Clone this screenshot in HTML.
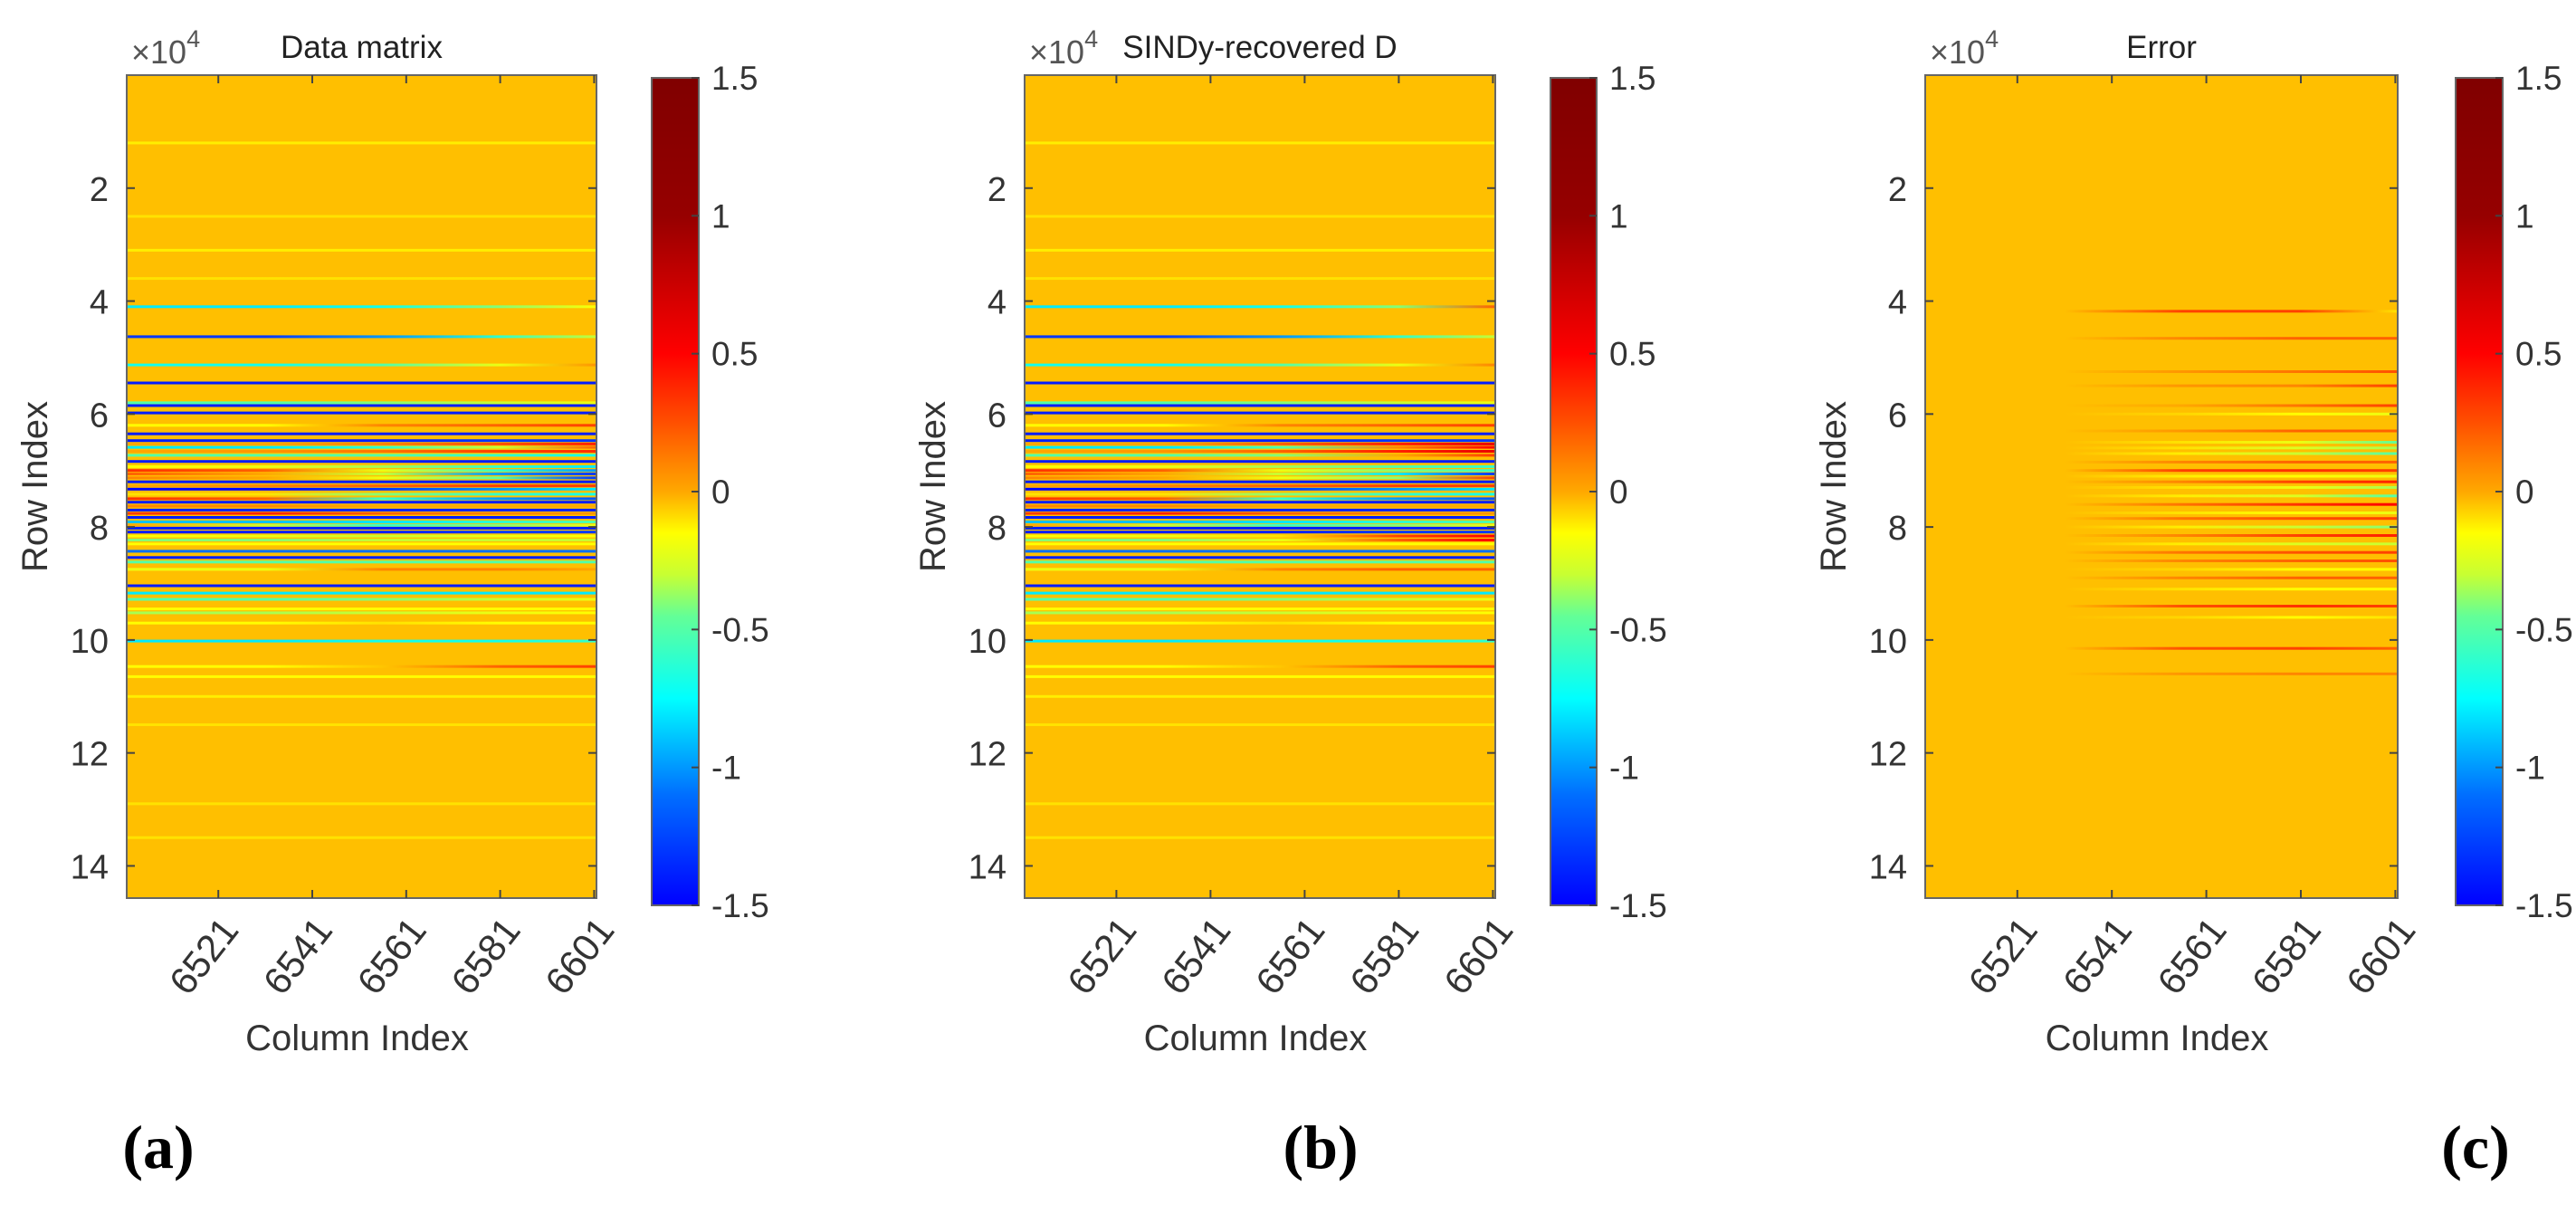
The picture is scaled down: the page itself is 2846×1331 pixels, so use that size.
<!DOCTYPE html>
<html><head><meta charset="utf-8">
<style>
html,body{margin:0;padding:0;background:#fff;}
svg{display:block;}
text{font-family:"Liberation Sans",sans-serif;}
</style></head>
<body>
<svg id="fig" width="2846" height="1331" viewBox="0 0 2846 1331" xmlns="http://www.w3.org/2000/svg">
<defs id="defs"></defs>
</svg>
<script>
// ---- data ----
const yTicks = [2,4,6,8,10,12,14];            // x10^4 rows
const xTicks = [6521,6541,6561,6581,6601];
const cbTicks = [1.5,1,0.5,0,-0.5,-1,-1.5];
const cbTickLabels = ["1.5","1","0.5","0","-0.5","-1","-1.5"];
const stripeCols = [6501.5,6531,6556,6581,6601.5];
const titles = ["Data matrix","SINDy-recovered D","Error"];
const panelLetters = ["(a)","(b)","(c)"];
const bgValues = [-0.04,-0.04,-0.04];
// [row (x1e4), value at each stripeCol]
const stripesA = [
[1.2,-0.12,-0.12,-0.12,-0.12,-0.12],[2.5,-0.1,-0.1,-0.1,-0.1,-0.1],[3.1,-0.12,-0.12,-0.12,-0.12,-0.12],[3.6,-0.1,-0.1,-0.1,-0.1,-0.1],
[4.10,-0.8,-0.8,-0.7,-0.4,-0.15],[4.63,-1.3,-1.3,-1.0,-0.6,-0.3],[5.13,-0.7,-0.7,-0.5,-0.2,0.05],[5.45,-1.4,-1.4,-1.4,-1.4,-1.4],
[5.80,-0.5,-0.5,-0.4,-0.3,-0.2],[5.85,-1.4,-1.4,-1.4,-1.4,-1.4],[5.98,-1.4,-1.4,-1.4,-1.4,-1.4],[6.20,-0.15,-0.15,0.1,0.2,0.3],
[6.35,-1.4,-1.4,-1.4,-1.4,-1.4],[6.47,-1.4,-1.4,-1.4,-1.3,-1.3],[6.53,0,0,0.1,0.25,0.4],[6.59,-0.8,-0.8,-0.6,-0.3,0.2],
[6.66,0,0.05,0.15,0.3,0.35],[6.73,-0.5,-0.5,-0.5,-0.6,-0.7],[6.84,-1.4,-1.4,-1.4,-1.4,-1.4],[6.93,-0.15,-0.2,-0.35,-0.6,-0.8],
[7.00,0.35,0.2,-0.2,-0.6,-1.0],[7.06,0.2,0,-0.3,-1.0,-1.3],[7.13,0.1,0,-0.2,-0.5,-1.3],[7.20,-1.4,-1.4,-1.4,-1.4,-1.4],
[7.27,0,0.1,0.2,0.3,0.3],[7.33,-1.5,-1.5,-1.3,-1.0,-0.8],[7.42,-0.1,-0.1,-0.4,-0.6,-0.7],[7.50,0.35,0.2,-0.6,-1.0,-1.2],
[7.56,-1.4,-1.4,-1.4,-1.4,-1.4],[7.63,0.1,0.1,0,0,0],[7.70,-1.4,-1.4,-1.4,-1.4,-1.4],[7.76,0.3,0.4,0.2,0.1,0.05],
[7.83,-1.4,-1.4,-1.4,-1.4,-1.4],[7.91,-0.9,-0.9,-0.8,-0.6,-0.5],[7.97,0,-0.3,-0.6,-0.4,-0.2],[8.02,-1.4,-1.4,-1.4,-1.4,-1.4],
[8.09,-1.4,-1.4,-1.4,-1.3,-1.3],[8.16,-0.15,-0.2,-0.3,-0.2,-0.15],[8.23,-0.4,-0.4,-0.3,-0.3,-0.3],[8.30,-0.15,-0.15,-0.15,-0.15,-0.15],
[8.43,-1.1,-1.1,-1.1,-1.1,-1.1],[8.54,-1.4,-1.4,-1.4,-1.4,-1.4],[8.62,-0.5,-0.5,-0.5,-0.5,-0.5],[8.75,-0.2,-0.2,0.1,0.1,0],
[9.04,-1.4,-1.4,-1.4,-1.4,-1.4],[9.17,-0.8,-0.8,-0.8,-0.8,-0.8],[9.28,-0.5,-0.5,-0.4,-0.3,-0.2],[9.45,-0.15,-0.15,-0.15,-0.15,-0.15],
[9.52,-0.35,-0.35,-0.3,-0.2,-0.15],[9.70,-0.15,-0.15,-0.1,-0.15,-0.15],[10.02,-0.8,-0.8,-0.7,-0.7,-0.6],[10.47,-0.15,-0.15,-0.05,0.2,0.3],
[10.65,-0.15,-0.15,-0.15,-0.15,-0.15],[11.0,-0.12,-0.12,-0.12,-0.12,-0.12],[11.5,-0.1,-0.1,-0.1,-0.1,-0.1],[12.9,-0.1,-0.1,-0.1,-0.1,-0.1],[13.5,-0.1,-0.1,-0.1,-0.1,-0.1]
];
const stripesB = [
[1.2,-0.12,-0.12,-0.12,-0.12,-0.12],[2.5,-0.1,-0.1,-0.1,-0.1,-0.1],[3.1,-0.12,-0.12,-0.12,-0.12,-0.12],[3.6,-0.1,-0.1,-0.1,-0.1,-0.1],
[4.10,-0.8,-0.8,-0.7,-0.4,0.2],[4.63,-1.3,-1.3,-1.0,-0.6,-0.3],[5.13,-0.7,-0.7,-0.5,-0.2,0.1],[5.45,-1.4,-1.4,-1.4,-1.4,-1.4],
[5.80,-0.5,-0.5,-0.4,-0.3,-0.2],[5.85,-1.4,-1.4,-1.4,-1.4,-1.4],[5.98,-1.4,-1.4,-1.4,-1.4,-1.4],[6.20,-0.15,-0.15,0.1,0.2,0.3],
[6.35,-1.4,-1.4,-1.4,-1.4,-1.4],[6.47,-1.4,-1.4,-1.4,-1.3,-1.3],[6.53,0,0,0.2,0.4,0.6],[6.59,-0.8,-0.8,-0.5,0.1,0.5],
[6.66,0,0.05,0.2,0.4,0.6],[6.73,-0.5,-0.5,-0.4,0,0.3],[6.84,-1.4,-1.4,-1.4,-1.4,-1.4],[6.93,-0.15,-0.2,-0.35,-0.5,-0.6],
[7.00,0.35,0.2,-0.2,-0.4,-0.6],[7.06,0.2,0,-0.3,-0.8,-1.3],[7.13,0.1,0,-0.2,-0.4,0.3],[7.20,-1.4,-1.4,-1.4,-1.4,-1.4],
[7.27,0,0.1,0.2,0.3,0.3],[7.33,-1.5,-1.5,-1.3,-1.0,-0.8],[7.42,-0.1,-0.1,-0.4,-0.6,-0.7],[7.50,0.35,0.2,-0.6,-1.0,-1.2],
[7.56,-1.4,-1.4,-1.4,-1.4,-1.4],[7.63,0.1,0.1,0,0,0],[7.70,-1.4,-1.4,-1.4,-1.4,-1.4],[7.76,0.3,0.4,0.2,0.1,0.05],
[7.83,-1.4,-1.4,-1.4,-1.4,-1.4],[7.91,-0.9,-0.9,-0.8,-0.6,-0.5],[7.97,0,-0.3,-0.6,-0.4,-0.2],[8.02,-1.4,-1.4,-1.4,-1.4,-1.4],
[8.09,-1.4,-1.4,-1.4,-1.3,-1.3],[8.16,-0.15,-0.2,-0.1,0.3,0.5],[8.23,-0.4,-0.4,-0.2,0.2,0.5],[8.30,-0.15,-0.15,-0.15,-0.15,-0.15],
[8.43,-1.1,-1.1,-1.1,-1.1,-1.1],[8.54,-1.4,-1.4,-1.4,-1.4,-1.4],[8.62,-0.5,-0.5,-0.5,-0.5,-0.5],[8.75,-0.2,-0.2,0.1,0.2,0.2],
[9.04,-1.4,-1.4,-1.4,-1.4,-1.4],[9.17,-0.8,-0.8,-0.8,-0.8,-0.8],[9.28,-0.5,-0.5,-0.4,-0.3,-0.2],[9.45,-0.15,-0.15,-0.15,-0.15,-0.15],
[9.52,-0.35,-0.35,-0.3,-0.2,-0.15],[9.70,-0.15,-0.15,-0.1,-0.15,-0.15],[10.02,-0.8,-0.8,-0.7,-0.7,-0.6],[10.47,-0.15,-0.15,-0.05,0.2,0.3],
[10.65,-0.15,-0.15,-0.15,-0.15,-0.15],[11.0,-0.12,-0.12,-0.12,-0.12,-0.12],[11.5,-0.1,-0.1,-0.1,-0.1,-0.1],[12.9,-0.1,-0.1,-0.1,-0.1,-0.1],[13.5,-0.1,-0.1,-0.1,-0.1,-0.1]
];
const stripesC = [
[4.18,-0.04,-0.04,0.3,0.3,-0.1],[4.66,-0.04,-0.04,0.1,0.2,0.2],[5.25,-0.04,-0.04,0.05,0.15,0.25],[5.50,-0.04,-0.04,0.05,0.1,0.3],
[5.85,-0.04,-0.04,0,0.15,0.3],[6.00,-0.04,-0.04,-0.08,-0.15,-0.2],[6.30,-0.04,-0.04,0.05,0.2,0.2],[6.50,-0.04,-0.04,-0.1,-0.2,-0.45],
[6.60,-0.04,-0.04,-0.1,-0.25,-0.35],[6.70,-0.04,-0.04,-0.12,-0.3,-0.5],[6.85,-0.04,-0.04,0.1,0.2,0.2],[7.00,-0.04,-0.04,0.3,0.35,0.3],
[7.10,-0.04,-0.04,-0.12,-0.15,-0.2],[7.20,-0.04,-0.04,0.1,0.3,0.4],[7.30,-0.04,-0.04,-0.1,-0.2,-0.35],[7.45,-0.04,-0.04,-0.12,-0.25,-0.5],
[7.60,-0.04,-0.04,0.15,0.35,0.5],[7.75,-0.04,-0.04,-0.1,-0.15,-0.2],[7.85,-0.04,-0.04,0.15,0.25,0.3],[8.00,-0.04,-0.04,-0.12,-0.3,-0.4],
[8.15,-0.04,-0.04,0.1,0.3,0.4],[8.30,-0.04,-0.04,-0.12,-0.25,-0.3],[8.45,-0.04,-0.04,0.15,0.25,0.3],[8.60,-0.04,-0.04,0.1,0.2,0.25],
[8.75,-0.04,-0.04,-0.08,-0.15,-0.15],[8.90,-0.04,-0.04,0.1,0.2,0.2],[9.10,-0.04,-0.04,-0.1,-0.15,-0.15],[9.40,-0.04,-0.04,0.25,0.35,0.3],
[9.60,-0.04,-0.04,-0.08,-0.15,-0.1],[10.15,-0.04,-0.04,0.25,0.3,0.2],[10.60,-0.04,-0.04,0.05,0.1,0.1]
];
const panelStripes = [stripesA, stripesB, stripesC];

// ---- layout ----
const panels = [
 {px0:140, px1:659, cb0:720, cb1:772, letterX:175},
 {px0:1132, px1:1652, cb0:1713, cb1:1764, letterX:1459},
 {px0:2127, px1:2649, cb0:2713, cb1:2765, letterX:2735}
];
const PY0=83, PY1=992, ROWMAX=14.57, COLMIN=6501.5, COLMAX=6601.5, CBMIN=-1.5, CBMAX=1.5, CB_Y0=86, CB_Y1=1000;
const cmapStops=[[-1.5,0,0,255],[-1.1,0,110,255],[-0.75,0,255,255],[-0.45,100,255,150],[-0.3,200,255,50],[-0.15,255,255,0],[0,255,168,0],[0.25,255,80,0],[0.5,255,0,0],[1.0,150,0,0],[1.5,128,0,0]];
function cmap(v){
  if(v<=cmapStops[0][0]) v=cmapStops[0][0];
  if(v>=cmapStops[cmapStops.length-1][0]) v=cmapStops[cmapStops.length-1][0];
  for(let i=0;i<cmapStops.length-1;i++){
    const a=cmapStops[i],b=cmapStops[i+1];
    if(v>=a[0]&&v<=b[0]){const t=(v-a[0])/(b[0]-a[0]||1);
      return `rgb(${Math.round(a[1]+t*(b[1]-a[1]))},${Math.round(a[2]+t*(b[2]-a[2]))},${Math.round(a[3]+t*(b[3]-a[3]))})`;}
  }
  return 'rgb(0,0,0)';
}
const NS="http://www.w3.org/2000/svg";
const svg=document.getElementById('fig'), defs=document.getElementById('defs');
function mk(tag,attrs,parent){const e=document.createElementNS(NS,tag);for(const k in attrs)e.setAttribute(k,attrs[k]);(parent||svg).appendChild(e);return e;}

panels.forEach((p,pi)=>{
  const xs=c=>p.px0+(c-COLMIN)/(COLMAX-COLMIN)*(p.px1-p.px0);
  const ys=r=>PY0+r/ROWMAX*(PY1-PY0);
  const cbs=v=>CB_Y1-(v-CBMIN)/(CBMAX-CBMIN)*(CB_Y1-CB_Y0);
  const g=mk('g',{});
  
  
  const hm=mk('g',{},g);
  
  
  const bg=mk('rect',{x:p.px0,y:PY0,width:p.px1-p.px0,height:PY1-PY0,fill:cmap(bgValues[pi])},hm);
  
  
  panelStripes[pi].forEach((s,si)=>{
    const gid='g'+pi+'_'+si;
    const lg=mk('linearGradient',{id:gid,x1:0,x2:1,y1:0,y2:0},defs);
    stripeCols.forEach((c,ci)=>{
      mk('stop',{offset:((c-COLMIN)/(COLMAX-COLMIN)).toFixed(3),'stop-color':cmap(s[ci+1])},lg);
    });
    const r=mk('rect',{x:p.px0,y:(ys(s[0])-1.5).toFixed(1),width:p.px1-p.px0,height:3,fill:`url(#${gid})`},hm);
    
    
  });
  const box=mk('rect',{x:p.px0,y:PY0,width:p.px1-p.px0,height:PY1-PY0,fill:'none',stroke:'#666',"stroke-width":2},g);
  
  
  yTicks.forEach(t=>{
    const y=ys(t);
    mk('line',{x1:p.px0,x2:p.px0+9,y1:y,y2:y,stroke:'#444','stroke-width':2},g);
    mk('line',{x1:p.px1-9,x2:p.px1,y1:y,y2:y,stroke:'#444','stroke-width':2},g);
    const tx=mk('text',{x:p.px0-20,y:y+14,'text-anchor':'end','font-size':38,fill:'#333'},g);
    tx.textContent=t;
    
    
  });
  xTicks.forEach(t=>{
    const x=xs(t);
    mk('line',{x1:x,x2:x,y1:PY1,y2:PY1-9,stroke:'#444','stroke-width':2},g);
    mk('line',{x1:x,x2:x,y1:PY0,y2:PY0+9,stroke:'#444','stroke-width':2},g);
    const tx=mk('text',{x:0,y:0,'text-anchor':'end','font-size':42,fill:'#333',transform:`translate(${x+24},${PY1+36}) rotate(-52)`},g);
    tx.textContent=t;
    
    
  });
  const mid=(p.px0+p.px1)/2;
  const ti=mk('text',{x:mid,y:64,'text-anchor':'middle','font-size':35,fill:'#222'},g);
  ti.textContent=titles[pi];
  
  
  const ex=mk('text',{x:p.px0+5,y:70,'font-size':36,fill:'#555'},g);
  ex.innerHTML='×10<tspan dy="-18" font-size="27">4</tspan>';
  
  
  const yl=mk('text',{x:0,y:0,'text-anchor':'middle','font-size':40,fill:'#333',transform:`translate(${p.px0-88},${(PY0+PY1)/2}) rotate(-90)`},g);
  yl.textContent='Row Index';
  
  
  const xl=mk('text',{x:mid-5,y:1160,'text-anchor':'middle','font-size':40,fill:'#333'},g);
  xl.textContent='Column Index';
  
  
  const cgid='cb'+pi;
  const clg=mk('linearGradient',{id:cgid,x1:0,x2:0,y1:1,y2:0},defs);
  cmapStops.forEach(s=>mk('stop',{offset:((s[0]-CBMIN)/(CBMAX-CBMIN)).toFixed(3),'stop-color':cmap(s[0])},clg));
  const cb=mk('rect',{x:p.cb0,y:CB_Y0,width:p.cb1-p.cb0,height:CB_Y1-CB_Y0,fill:`url(#${cgid})`,stroke:'#666','stroke-width':2},g);
  
  
  cbTicks.forEach((t,ti2)=>{
    const y=cbs(t);
    mk('line',{x1:p.cb1-8,x2:p.cb1,y1:y,y2:y,stroke:'#444','stroke-width':2},g);
    const tx=mk('text',{x:p.cb1+14,y:y+13,'font-size':37,fill:'#333'},g);
    tx.textContent=cbTickLabels[ti2];
    
    
  });
  const lt=mk('text',{x:p.letterX,y:1290,'text-anchor':'middle','font-size':68,'font-weight':'bold',fill:'#000',style:'font-family:"Liberation Serif",serif'},g);
  lt.textContent=panelLetters[pi];
  
  
});
</script>
</body></html>
